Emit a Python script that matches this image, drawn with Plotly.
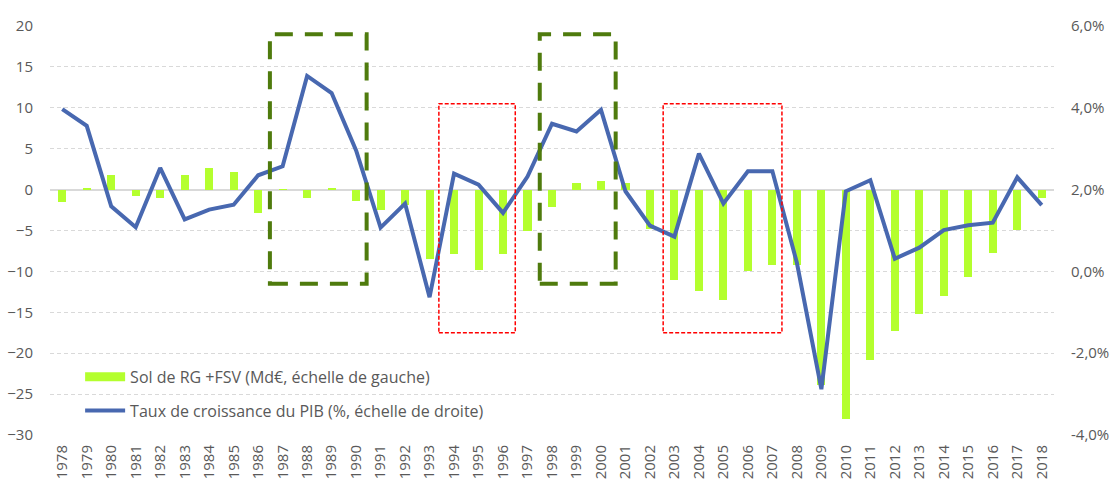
import plotly.graph_objects as go

# Années
annees = list(range(1978, 2019))

# Solde du régime général + FSV (Md€, échelle de gauche)
solde_rg_fsv = [
    -1.5, 0.2, 1.75, -0.8, -1.0, 1.75, 2.65, 2.1, -2.85, 0.05,
    -1.0, 0.1, -1.4, -2.5, -1.9, -8.5, -7.9, -9.85, -7.9, -5.1,
    -2.1, 0.8, 1.0, 0.85, -4.8, -11.1, -12.4, -13.55, -10.0, -9.25,
    -9.25, -23.9, -28.0, -20.8, -17.3, -15.2, -13.0, -10.7, -7.7, -4.9,
    -1.0,
]

# Taux de croissance du PIB (%, échelle de droite)
croissance_pib = [
    3.97, 3.56, 1.59, 1.08, 2.53, 1.27, 1.51, 1.63, 2.35, 2.57,
    4.78, 4.36, 2.96, 1.07, 1.66, -0.63, 2.39, 2.12, 1.43, 2.32,
    3.61, 3.42, 3.95, 1.96, 1.12, 0.85, 2.88, 1.66, 2.45, 2.45,
    0.21, -2.88, 1.96, 2.23, 0.31, 0.58, 1.01, 1.13, 1.19, 2.30,
    1.62,
]

# Graduations de l'échelle de droite
graduations_droite = [-4, -2, 0, 2, 4, 6]
libelles_droite = ["-4,0%", "-2,0%", "0,0%", "2,0%", "4,0%", "6,0%"]

nom_solde = "Sol de RG +FSV (Md€, échelle de gauche)"
nom_pib = "Taux de croissance du PIB (%, échelle de droite)"

VERT = "#B4FF2E"
BLEU = "#4868B0"
GRIS_TEXTE = "#595959"
GRILLE = "#D9D9D9"
POLICE = "Open Sans"

fig = go.Figure()

fig.add_trace(go.Bar(
    x=annees, y=solde_rg_fsv, name=nom_solde,
    marker=dict(color=VERT, line=dict(width=0)),
    width=0.33, showlegend=False, yaxis="y",
))
# Entrée de légende du solde, en bandeau horizontal
fig.add_trace(go.Scatter(
    x=[None], y=[None], mode="lines", name=nom_solde,
    line=dict(color=VERT, width=9), legendgroup="a", yaxis="y",
))
fig.add_trace(go.Scatter(
    x=annees, y=croissance_pib, name=nom_pib, mode="lines",
    line=dict(color=BLEU, width=4), legendgroup="b", yaxis="y2",
))

# Encadrés : périodes de forte croissance (vert) et de déficit malgré la croissance (rouge)
encadres_verts = [(1986.48, 1990.43), (1997.5, 2000.6)]
encadres_rouges = [(1993.38, 1996.5), (2002.54, 2007.39)]
shapes = []
for x0, x1 in encadres_verts:
    shapes.append(dict(
        type="rect", xref="x", yref="y", x0=x0, x1=x1, y0=-11.5, y1=19.0,
        line=dict(color="#4F7B0D", width=4, dash="18px,12px"),
        fillcolor="rgba(0,0,0,0)", layer="above",
    ))
for x0, x1 in encadres_rouges:
    shapes.append(dict(
        type="rect", xref="x", yref="y", x0=x0, x1=x1, y0=-17.5, y1=10.5,
        line=dict(color="#FF0000", width=1.5, dash="4px,2px"),
        fillcolor="rgba(0,0,0,0)", layer="above",
    ))

fig.update_layout(
    width=1115, height=483,
    margin=dict(l=50, r=61, t=26, b=47.5, pad=0, autoexpand=False),
    paper_bgcolor="white", plot_bgcolor="white",
    font=dict(family=POLICE, size=14, color=GRIS_TEXTE),
    bargap=0,
    shapes=shapes,
    xaxis=dict(
        range=[1977.5, 2018.5], tickmode="linear", tick0=1978, dtick=1,
        tickangle=-90, showgrid=False, zeroline=False, showline=False,
        ticks="", ticklabelstandoff=6, automargin=False,
        tickfont=dict(size=15, color=GRIS_TEXTE),
    ),
    yaxis=dict(
        range=[-30, 20], tickmode="linear", tick0=-30, dtick=5,
        showgrid=True, gridcolor=GRILLE, gridwidth=1, griddash="4px,3px",
        zeroline=True, zerolinecolor=GRILLE, zerolinewidth=2,
        showline=False, ticks="", ticklabelstandoff=16, automargin=False,
        tickfont=dict(size=15, color=GRIS_TEXTE),
    ),
    yaxis2=dict(
        range=[-4, 6], overlaying="y", side="right",
        tickmode="array", tickvals=graduations_droite, ticktext=libelles_droite,
        showgrid=False, zeroline=False, showline=False, ticks="",
        ticklabelstandoff=16, automargin=False,
        tickfont=dict(size=15, color=GRIS_TEXTE),
    ),
    legend=dict(
        x=0.03, y=0.184, xanchor="left", yanchor="top",
        bgcolor="rgba(0,0,0,0)", traceorder="grouped", tracegroupgap=10,
        font=dict(family=POLICE, size=16, color=GRIS_TEXTE),
        itemwidth=40,
    ),
)

fig.write_html("out.html")
